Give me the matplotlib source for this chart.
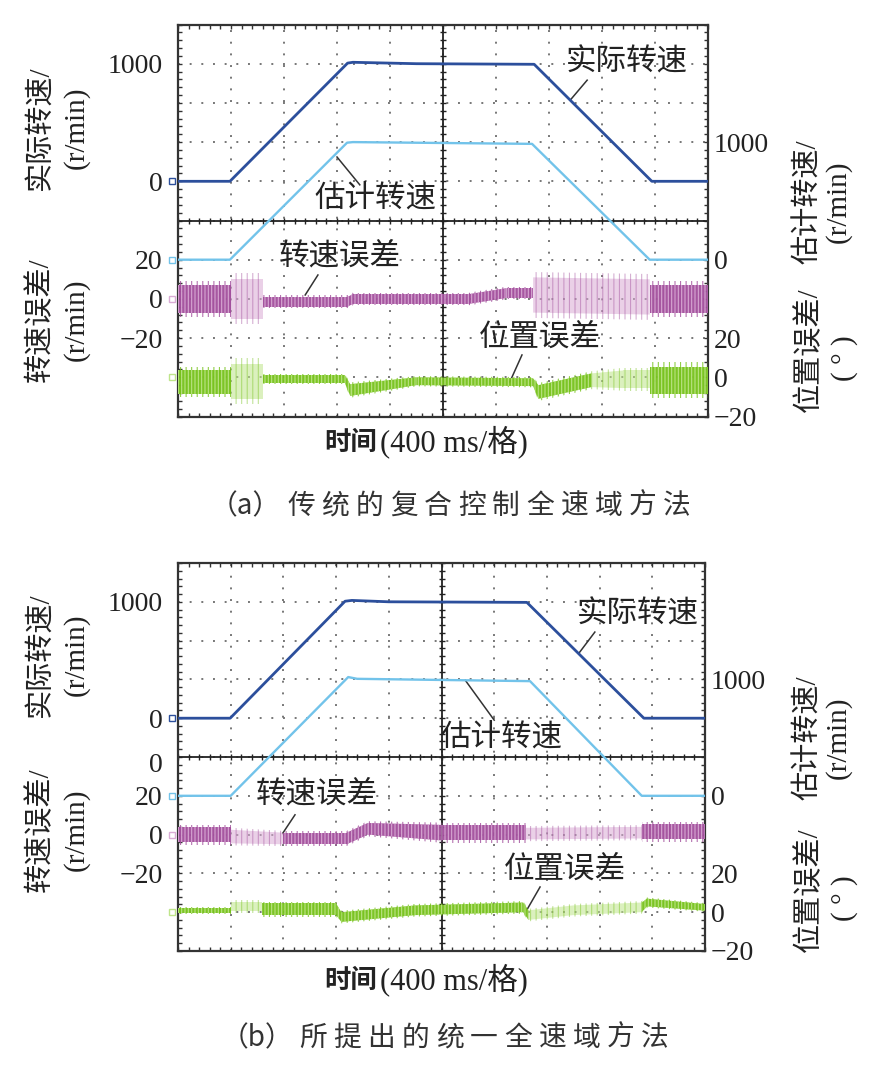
import matplotlib.pyplot as plt
import numpy as np

plt.rcParams['font.family'] = ['Liberation Serif', 'Noto Sans CJK SC']
plt.rcParams['hatch.linewidth'] = 0.8
plt.rcParams['axes.unicode_minus'] = True

W, H = 884, 1066

# Time axis is in screen divisions (400 ms per division), 10 divisions.
# ---------- panel (a): conventional hybrid method ----------
a_act_t = [0, 0.98, 3.2, 3.3, 4.5, 6.72, 8.94, 10]
a_act_v = [0, 0, 1005, 1012, 1000, 995, 0, 0]          # r/min
a_est_t = [0, 0.98, 3.19, 3.3, 6.68, 8.9, 10]
a_est_v = [0, 0, 995, 1000, 985, 0, 0]                  # r/min

a_se_t = [0, 1.0, 1.0, 1.6, 1.6, 3.2, 3.3, 5.5, 6.2, 6.7, 6.7, 8.9, 8.9, 10]
a_se_mid = [0, 0, 0, 0, -1.5, -1.5, 0, 0, 3, 3, 2, 1, 0, 0]
a_se_half = [7, 7, 10, 10, 2.5, 2.5, 2.5, 2.5, 2.5, 2.5, 9, 9, 7, 7]
a_se_light = [(1.0, 1.6), (6.7, 8.9)]

a_pe_t = [0, 1.0, 1.0, 1.6, 1.6, 3.15, 3.25, 4.5, 6.7, 6.8, 7.8, 8.4, 8.9, 8.9, 10]
a_pe_mid = [-2.3, -2.3, -2, -2, -1, -1, -6.5, -2, -2.5, -7.5, -1.5, -1, -1, -1.5, -1.5]
a_pe_half = [6, 6, 9, 9, 2, 2, 3, 2, 2, 3.5, 3.5, 4.5, 4.5, 7, 7]
a_pe_light = [(1.0, 1.6), (7.8, 8.9)]

# ---------- panel (b): proposed unified method ----------
b_act_t = [0, 0.99, 3.17, 3.3, 4.0, 6.62, 8.84, 10]
b_act_v = [0, 0, 1005, 1012, 1000, 995, 0, 0]
b_est_t = [0, 1.0, 3.23, 3.4, 6.68, 8.8, 10]
b_est_v = [0, 0, 1020, 1005, 985, 0, 0]

b_se_t = [0, 1.0, 1.0, 2.0, 3.2, 3.6, 5.0, 6.6, 6.6, 8.8, 8.8, 10]
b_se_mid = [0, 0, -1, -2, -2, 3, 1, 1, 0.5, 1, 1.5, 1.5]
b_se_half = [4, 4, 3.5, 3, 3, 3, 4, 4, 3, 3, 4, 4]
b_se_light = [(1.0, 2.0), (6.6, 8.8)]

b_pe_t = [0, 1.0, 1.0, 1.6, 1.6, 3.0, 3.1, 4.5, 6.55, 6.65, 7.5, 8.8, 8.9, 10]
b_pe_mid = [1, 1, 3, 3, 1.5, 1.5, -2.5, 1, 2.5, -1.5, 1, 2.5, 5, 2.5]
b_pe_half = [1.3, 1.3, 2.5, 2.5, 3, 3, 2.5, 2.5, 2.5, 2.5, 2.5, 2.5, 2, 1.7]
b_pe_light = [(1.0, 1.6), (6.65, 8.8)]

# channel scales: (zero position in divisions from bottom, units per division)
ACT_SCALE = (6, 1000 / 3)
EST_SCALE = (4, 1000 / 3)
SE_SCALE = (3, 20)
PE_SCALE = (1, 20)

C_ACT = '#2c4f9c'
C_EST = '#72c3ea'
C_SE, C_SE_L = '#a24f9c', '#d9abd5'
C_PE, C_PE_L = '#76c21b', '#bfe58a'
TXT = '#222222'


def px(x, y):
    return x / W, 1 - y / H


def channel_axes(fig, rect, scale):
    ax = fig.add_axes(rect, frameon=False)
    ax.patch.set_visible(False)
    zero, per = scale
    ax.set_xlim(0, 10)
    ax.set_ylim(-zero * per, (10 - zero) * per)
    ax.set_xticks([])
    ax.tick_params(axis='y', length=0, labelsize=20, labelcolor=TXT)
    return ax


def noisy_band(ax, t, mid, half, light, color, light_color):
    # noisy scope trace drawn as a textured band between read-off envelopes
    t = np.asarray(t, float)
    mid = np.asarray(mid, float)
    half = np.asarray(half, float)
    for i in range(len(t) - 1):
        if t[i + 1] <= t[i]:
            continue
        c = 0.5 * (t[i] + t[i + 1])
        s = slice(i, i + 2)
        lo, hi = mid[s] - half[s], mid[s] + half[s]
        lo2, hi2 = mid[s] - 1.3 * half[s], mid[s] + 1.3 * half[s]
        if any(a <= c <= b for a, b in light):
            ax.fill_between(t[s], lo, hi, facecolor=light_color, alpha=0.55, linewidth=0)
            ax.fill_between(t[s], lo2, hi2, facecolor='none', edgecolor=color,
                            alpha=0.45, hatch='|||', linewidth=0)
        else:
            ax.fill_between(t[s], lo2, hi2, facecolor='none', edgecolor=color,
                            alpha=0.8, hatch='|||', linewidth=0)
            ax.fill_between(t[s], lo, hi, facecolor=color, alpha=0.95,
                            edgecolor=light_color, hatch='|||||', linewidth=0)


def draw_panel(fig, rect, act, est, se, pe, notes):
    ax = fig.add_axes(rect)
    ax.set_xlim(0, 10)
    ax.set_ylim(0, 10)
    ax.set_xticks(range(11))
    ax.set_yticks(range(11))
    ax.set_xticks(np.arange(0, 10.01, 0.2), minor=True)
    ax.set_yticks(np.arange(0, 10.01, 0.2), minor=True)
    ax.tick_params(which='both', direction='in', top=True, right=True,
                   labelleft=False, labelbottom=False, length=3, width=1, color='#333')
    ax.grid(True, which='major', color='#777777', linestyle=(0, (1, 5)), linewidth=1.4)
    for s in ax.spines.values():
        s.set_linewidth(1.6)
        s.set_color('#333')
    ax.axhline(5, color='#222', lw=1.3)
    ax.axvline(5, color='#222', lw=1.3)
    sub = np.arange(0, 10.01, 0.2)
    ax.plot(sub, np.full_like(sub, 5), ls='none', marker='|', ms=5, color='#222', mew=1)
    ax.plot(np.full_like(sub, 5), sub, ls='none', marker='_', ms=5, color='#222', mew=1)

    # speed error (left), position error (right)
    ax_se = channel_axes(fig, rect, SE_SCALE)
    ax_se.set_yticks([20, 0, -20], ['20', '0', '−20'])
    ax_se.tick_params(axis='y', pad=11)
    noisy_band(ax_se, *se, C_SE, C_SE_L)
    ax_se.plot([-0.12], [0], marker='s', ms=4, mfc='none', mec=C_SE_L, clip_on=False)

    ax_pe = channel_axes(fig, rect, PE_SCALE)
    ax_pe.yaxis.tick_right()
    ax_pe.set_yticks([20, 0, -20], ['20', '0', '−20'])
    ax_pe.tick_params(axis='y', pad=4)
    noisy_band(ax_pe, *pe, C_PE, C_PE_L)
    ax_pe.plot([-0.12], [0], marker='s', ms=4, mfc='none', mec=C_PE_L, clip_on=False)

    ax_est = channel_axes(fig, rect, EST_SCALE)
    ax_est.yaxis.tick_right()
    ax_est.set_yticks([1000, 0], ['1000', '0'])
    ax_est.tick_params(axis='y', pad=4)
    ax_est.plot(est[0], est[1], color=C_EST, lw=1.7)
    ax_est.plot([-0.12], [0], marker='s', ms=4, mfc='none', mec=C_EST, clip_on=False)

    ax_act = channel_axes(fig, rect, ACT_SCALE)
    ax_act.set_yticks([1000, 0], ['1000', '0'])
    ax_act.tick_params(axis='y', pad=11)
    ax_act.plot(act[0], act[1], color=C_ACT, lw=2.0)
    ax_act.plot([-0.12], [0], marker='s', ms=4, mfc='none', mec=C_ACT, clip_on=False)

    for label, (tx, ty), (x1, y1), (x2, y2) in notes:
        ax.text(tx, ty, label, ha='center', va='center', fontsize=22, color=TXT, zorder=5)
        ax.plot([x1, x2], [y1, y2], color='#333', lw=1.1, zorder=5)
    return ax


fig = plt.figure(figsize=(W / 100, H / 100), dpi=100)

rect_a = [178 / W, 1 - 416.5 / H, 530 / W, 392 / H]
rect_b = [178 / W, 1 - 951 / H, 527 / W, 388 / H]

notes_a = [
    ('实际转速', (8.47, 9.02), (7.72, 8.58), (7.40, 8.07)),
    ('估计转速', (3.72, 5.55), (3.00, 6.62), (3.43, 5.91)),
    ('转速误差', (3.06, 4.07), (2.64, 3.61), (2.40, 3.10)),
    ('位置误差', (6.83, 2.00), (6.49, 1.57), (6.26, 0.88)),
]
notes_b = [
    ('实际转速', (8.73, 8.66), (7.91, 8.22), (7.61, 7.68)),
    ('估计转速', (6.13, 5.49), (5.45, 6.98), (6.00, 5.95)),
    ('转速误差', (2.64, 4.02), (2.22, 3.51), (1.99, 3.04)),
    ('位置误差', (7.34, 2.09), (6.87, 1.65), (6.62, 1.06)),
]

draw_panel(fig, rect_a, (a_act_t, a_act_v), (a_est_t, a_est_v),
           (a_se_t, a_se_mid, a_se_half, a_se_light),
           (a_pe_t, a_pe_mid, a_pe_half, a_pe_light), notes_a)
draw_panel(fig, rect_b, (b_act_t, b_act_v), (b_est_t, b_est_v),
           (b_se_t, b_se_mid, b_se_half, b_se_light),
           (b_pe_t, b_pe_mid, b_pe_half, b_pe_light), notes_b)

# stray zero label on the left of panel (b)
fig.text(*px(163, 765), '0', ha='right', va='center', fontsize=20, color=TXT)

# axis titles (two columns: name and unit)
lab_kw = dict(rotation=90, ha='center', va='center', fontsize=21, color=TXT)
for (yl_act, yl_se, yr_est, yr_pe) in [(128, 320, 202, 350), (655, 830, 738, 890)]:
    fig.text(*px(40, yl_act), '实际转速/', **lab_kw)
    fig.text(*px(76, yl_act), '(r/min)', **lab_kw)
    fig.text(*px(40, yl_se), '转速误差/', **lab_kw)
    fig.text(*px(76, yl_se), '(r/min)', **lab_kw)
    fig.text(*px(809, yr_est), '估计转速/', **lab_kw)
    fig.text(*px(838, yr_est), '(r/min)', **lab_kw)
    fig.text(*px(809, yr_pe), '位置误差/', **lab_kw)
    fig.text(*px(845, yr_pe + 8), '( ° )', **lab_kw)

for y in (442, 980):
    fig.text(*px(377, y), '时间', ha='right', va='center', fontsize=19,
             fontweight='bold', family='Noto Sans CJK SC', color=TXT)
    fig.text(*px(380, y), '(400 ms/格)', ha='left', va='center', fontsize=22, color=TXT)

# captions with wide character spacing
caps = [('（a）', '传统的复合控制全速域方法', 301, 506), ('（b）', '所提出的统一全速域方法', 313, 1038)]
for head, body, x0, y in caps:
    fig.text(*px(x0 - 20, y), head, ha='right', va='center', fontsize=20,
             family='Noto Sans CJK SC', color='#333')
    for i, ch in enumerate(body):
        fig.text(*px(x0 + i * 34.2, y), ch, ha='center', va='center', fontsize=20,
                 family='Noto Sans CJK SC', color='#333')

fig.savefig('out.png', dpi=100)
